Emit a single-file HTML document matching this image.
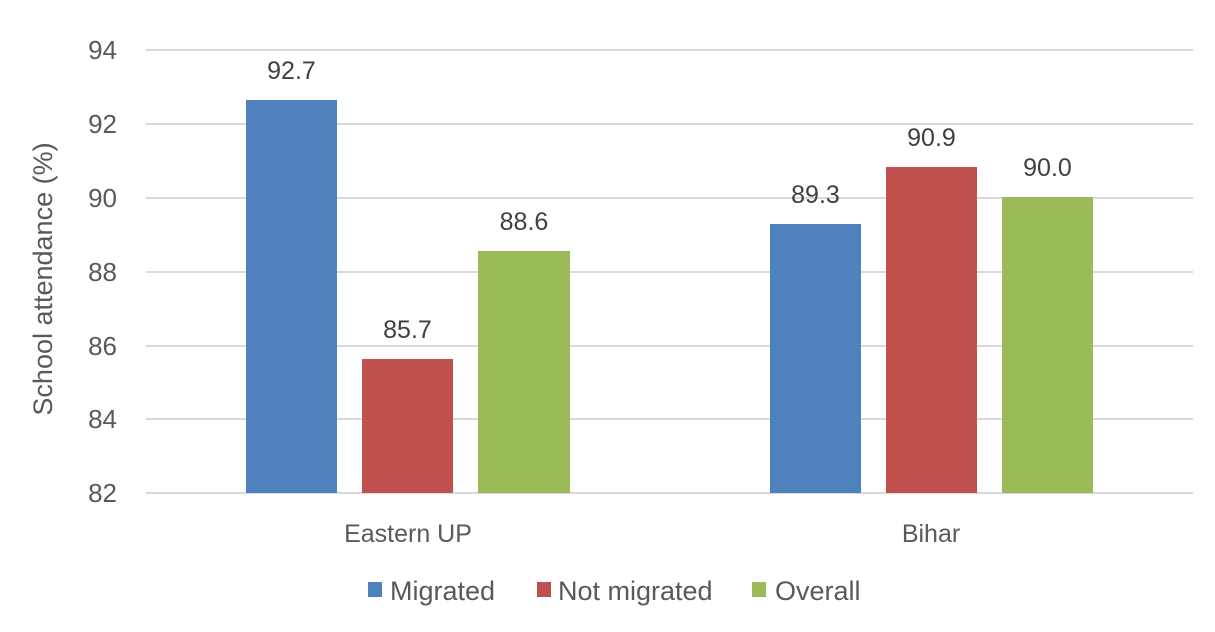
<!DOCTYPE html>
<html><head><meta charset="utf-8"><style>
body{margin:0;background:#fff}
svg text{font-family:"Liberation Sans",sans-serif;fill:#595959}
</style></head><body>
<svg width="1215" height="627" viewBox="0 0 1215 627" xmlns="http://www.w3.org/2000/svg">
<g stroke="#D9D9D9" stroke-width="2">
<line x1="146" x2="1193" y1="50" y2="50"/>
<line x1="146" x2="1193" y1="124" y2="124"/>
<line x1="146" x2="1193" y1="198" y2="198"/>
<line x1="146" x2="1193" y1="272" y2="272"/>
<line x1="146" x2="1193" y1="346" y2="346"/>
<line x1="146" x2="1193" y1="419" y2="419"/>
<line x1="146" x2="1193" y1="493" y2="493"/>
</g>
<g font-size="26" text-anchor="end">
<text x="117" y="59">94</text>
<text x="117" y="133">92</text>
<text x="117" y="207">90</text>
<text x="117" y="281">88</text>
<text x="117" y="355">86</text>
<text x="117" y="428">84</text>
<text x="117" y="502">82</text>
</g>
<text transform="translate(52,279) rotate(-90)" font-size="27" text-anchor="middle">School attendance (%)</text>
<rect x="246" y="100" width="91" height="393" fill="#4F81BD"/>
<rect x="362" y="359" width="91" height="134" fill="#C0504D"/>
<rect x="478" y="251" width="92" height="242" fill="#9BBB59"/>
<rect x="770" y="224" width="91" height="269" fill="#4F81BD"/>
<rect x="886" y="167" width="91" height="326" fill="#C0504D"/>
<rect x="1002" y="197" width="91" height="296" fill="#9BBB59"/>
<g font-size="25" text-anchor="middle">
<text x="291.5" y="79" style="fill:#404040">92.7</text>
<text x="407.5" y="338" style="fill:#404040">85.7</text>
<text x="524" y="230" style="fill:#404040">88.6</text>
<text x="815.5" y="203" style="fill:#404040">89.3</text>
<text x="931.5" y="146" style="fill:#404040">90.9</text>
<text x="1047.5" y="176" style="fill:#404040">90.0</text>
</g>
<g font-size="25" text-anchor="middle">
<text x="408" y="542">Eastern UP</text>
<text x="931" y="542">Bihar</text>
</g>
<g font-size="27">
<rect x="368" y="582" width="14" height="15" fill="#4F81BD"/>
<text x="390" y="600">Migrated</text>
<rect x="537" y="582" width="14" height="15" fill="#C0504D"/>
<text x="558" y="600">Not migrated</text>
<rect x="752" y="582" width="14" height="15" fill="#9BBB59"/>
<text x="775" y="600">Overall</text>
</g>
</svg>
</body></html>
